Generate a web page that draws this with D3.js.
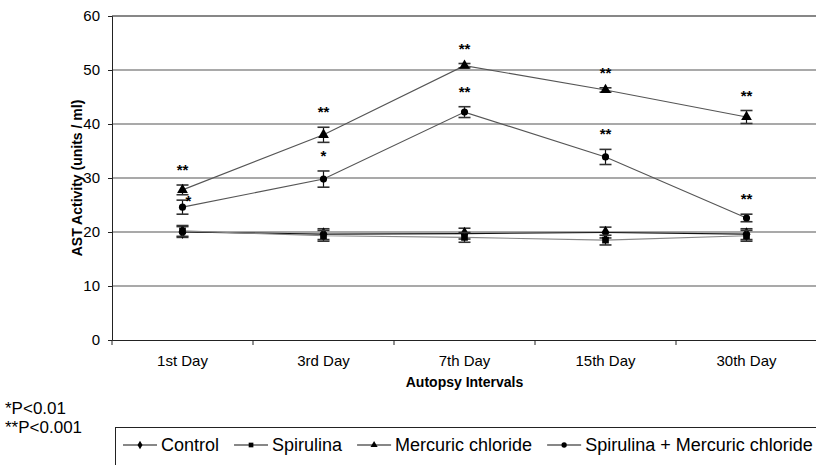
<!DOCTYPE html>
<html><head><meta charset="utf-8">
<script src="https://cdn.jsdelivr.net/npm/d3@7"></script>
<style>
body{margin:0;background:#fff;}
text{font-family:"Liberation Sans",Arial,sans-serif;fill:#000;}
</style></head>
<body><svg id="c" width="816" height="465"></svg>
<script>
const categories = ["1st Day","3rd Day","7th Day","15th Day","30th Day"];
const yTicks = [0,10,20,30,40,50,60];
const seriesNames = ["Control","Spirulina","Mercuric chloride","Spirulina + Mercuric chloride"];
const controlVals = [20.0,19.6,19.7,19.9,19.6];
const controlErr  = [1.0,1.0,1.0,1.0,1.0];
const spirulinaVals = [20.2,19.3,19.0,18.5,19.3];
const spirulinaErr  = [1.0,1.0,0.9,0.9,1.0];
const mercuricVals = [27.8,38.0,50.8,46.3,41.3];
const mercuricErr  = [0.9,1.4,0.4,0.4,1.2];
const spMercVals = [24.6,29.8,42.2,33.9,22.6];
const spMercErr  = [1.3,1.5,1.0,1.4,0.7];
const mercuricSig = ["**","**","**","**","**"];
const spMercSig = ["*","*","**","**","**"];
const footnotes = ["*P<0.01","**P<0.001"];

const series = [
  {name:seriesNames[0], vals:controlVals, err:controlErr, sym:d3.symbolDiamond, line:"#111"},
  {name:seriesNames[1], vals:spirulinaVals, err:spirulinaErr, sym:d3.symbolSquare, line:"#888"},
  {name:seriesNames[2], vals:mercuricVals, err:mercuricErr, sym:d3.symbolTriangle, line:"#555", sig:mercuricSig},
  {name:seriesNames[3], vals:spMercVals, err:spMercErr, sym:d3.symbolCircle, line:"#555", sig:spMercSig}
];
const symSize = {[seriesNames[0]]:55,[seriesNames[1]]:45,[seriesNames[2]]:50,[seriesNames[3]]:40};

const svg = d3.select("#c");
const L=112, R=817, T=16, B=340;
const x = d3.scaleBand().domain(categories).range([L,R]);
const y = d3.scaleLinear().domain([0,60]).range([B,T]);

// gridlines
svg.append("g").selectAll("line").data(yTicks.filter(d=>d>0)).join("line")
  .attr("x1",L).attr("x2",R).attr("y1",d=>y(d)).attr("y2",d=>y(d))
  .attr("stroke",d=>d===60?"#111":"#555").attr("stroke-width",1.2);

// y axis
const ya = svg.append("g").attr("transform",`translate(${L},0)`)
  .call(d3.axisLeft(y).tickValues(yTicks).tickSize(4).tickPadding(8));
ya.select(".domain").attr("stroke","#222");
ya.selectAll(".tick line").attr("stroke","#222");
ya.selectAll("text").style("font-size","15px").style("font-family","Liberation Sans, Arial");

// x axis
const xa = svg.append("g").attr("transform",`translate(0,${B})`)
  .call(d3.axisBottom(x).tickSize(0).tickPadding(15));
xa.select(".domain").attr("stroke","#222");
xa.selectAll("text").style("font-size","15px").style("font-family","Liberation Sans, Arial");
svg.append("g").selectAll("line").data(categories).join("line")
  .attr("x1",d=>x(d)).attr("x2",d=>x(d)).attr("y1",B).attr("y2",B+5).attr("stroke","#222");

// axis titles
svg.append("text").attr("x",(L+R)/2).attr("y",387).attr("text-anchor","middle")
  .style("font-size","14px").style("font-weight","bold").text("Autopsy Intervals");
svg.append("text").attr("transform",`translate(82,${(T+B)/2}) rotate(-90)`).attr("text-anchor","middle")
  .style("font-size","14px").style("font-weight","bold").text("AST Activity (units / ml)");

const cx = c => x(c)+x.bandwidth()/2;
const line = d3.line().x(d=>cx(d.c)).y(d=>y(d.v));

series.forEach(s=>{
  const pts = categories.map((c,i)=>({c,v:s.vals[i],e:s.err[i]}));
  const g = svg.append("g");
  g.append("path").attr("d",line(pts)).attr("fill","none").attr("stroke",s.line).attr("stroke-width",1.1);
  pts.forEach(p=>{
    g.append("line").attr("x1",cx(p.c)).attr("x2",cx(p.c)).attr("y1",y(p.v+p.e)).attr("y2",y(p.v-p.e)).attr("stroke","#111").attr("stroke-width",1.2);
    [p.v+p.e,p.v-p.e].forEach(v=>{
      g.append("line").attr("x1",cx(p.c)-6).attr("x2",cx(p.c)+6).attr("y1",y(v)).attr("y2",y(v)).attr("stroke","#333").attr("stroke-width",1.6);
    });
  });
  g.selectAll("path.m").data(pts).join("path").attr("class","m")
    .attr("transform",d=>`translate(${cx(d.c)},${y(d.v)})`)
    .attr("d",d3.symbol().type(s.sym).size(symSize[s.name])).attr("fill","#000");
  if(s.sig){
    pts.forEach((p,i)=>{
      let tx = cx(p.c), ty = y(p.v+p.e)-10;
      if(s===series[3] && i===0){ tx = cx(p.c)+6; ty = y(p.v+p.e)+6; }
      svg.append("text").attr("x",tx).attr("y",ty).attr("text-anchor","middle")
        .style("font-size","15px").style("font-weight","bold").text(s.sig[i]);
    });
  }
});

// footnotes
svg.selectAll("text.fn").data(footnotes).join("text").attr("class","fn")
  .attr("x",5).attr("y",(d,i)=>414+i*19).style("font-size","17px").text(d=>d);

// legend
const lg = svg.append("g");
lg.append("rect").attr("x",115.5).attr("y",427.5).attr("width",720).attr("height",60)
  .attr("fill","#fff").attr("stroke","#222").attr("stroke-width",1);
let lx = 123; const ly = 445;
series.forEach(s=>{
  lg.append("line").attr("x1",lx).attr("x2",lx+34).attr("y1",ly).attr("y2",ly).attr("stroke","#111").attr("stroke-width",1.2);
  lg.append("path").attr("transform",`translate(${lx+17},${ly})`).attr("d",d3.symbol().type(s.sym).size(22)).attr("fill","#000");
  const t = lg.append("text").attr("x",lx+38).attr("y",ly+6).style("font-size","18px").text(s.name);
  lx = lx + 38 + t.node().getComputedTextLength() + 15;
});
</script></body></html>
